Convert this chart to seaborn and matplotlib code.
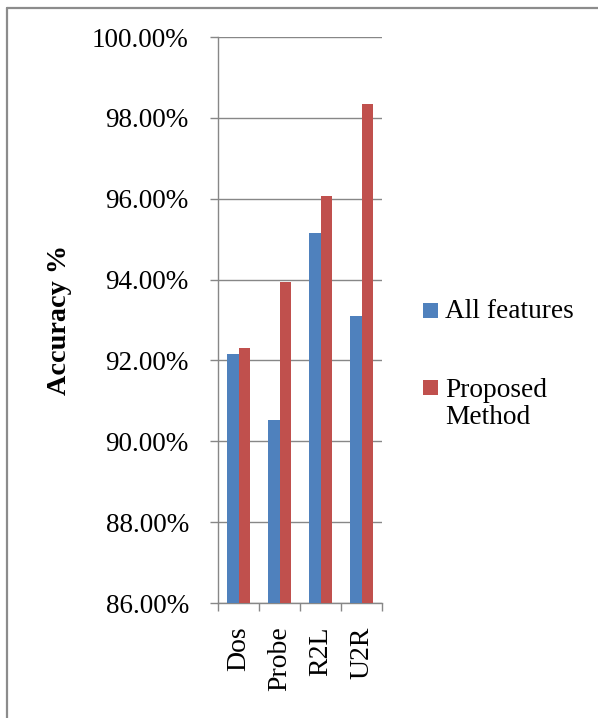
import matplotlib
matplotlib.use("Agg")
import matplotlib.pyplot as plt
from matplotlib.lines import Line2D
from matplotlib.patches import Rectangle
from matplotlib.ticker import FuncFormatter, FixedLocator, NullFormatter
import seaborn as sns
import pandas as pd

# Accuracy per attack class
categories = ["Dos", "Probe", "R2L", "U2R"]
all_features = [92.17, 90.52, 95.15, 93.09]
proposed_method = [92.30, 93.95, 96.06, 98.35]
series_names = ["All features", "Proposed\nMethod"]
y_ticks = [86, 88, 90, 92, 94, 96, 98, 100]

df = pd.DataFrame({
    "category": categories * 2,
    "accuracy": all_features + proposed_method,
    "series": [series_names[0]] * 4 + [series_names[1]] * 4,
})

sns.set_theme(style="white")
plt.rcParams["font.family"] = ["Liberation Serif", "DejaVu Serif"]

W, H = 598, 718
fig = plt.figure(figsize=(W / 100, H / 100), dpi=100)
fig.patch.set_facecolor("white")

left, right, top, bottom = 218, 382, 37, 603
ax = fig.add_axes([left / W, 1 - bottom / H, (right - left) / W, (bottom - top) / H])

colors = ["#4F81BD", "#C0504D"]
sns.barplot(data=df, x="category", y="accuracy", hue="series",
            palette=colors, width=0.57, linewidth=0, saturation=1,
            ax=ax, legend=False, zorder=3)

grey = "#878787"
ax.set_ylim(86, 100)
ax.set_xlim(-0.5, len(categories) - 0.5)
ax.set_yticks(y_ticks)
ax.yaxis.set_major_formatter(FuncFormatter(lambda v, p: f"{v:.2f}%"))
ax.yaxis.grid(True, color=grey, linewidth=1.0, zorder=0)
ax.set_axisbelow(True)

# category boundaries carry the tick marks, labels sit at the centres
ax.xaxis.set_minor_locator(FixedLocator([i - 0.5 for i in range(len(categories) + 1)]))
ax.xaxis.set_minor_formatter(NullFormatter())
ax.tick_params(axis="x", which="major", length=0, pad=17, labelsize=20,
               labelrotation=90, labelcolor="black")
ax.tick_params(axis="x", which="minor", length=6, width=1.0, color=grey,
               direction="out", bottom=True)
ax.tick_params(axis="y", length=6, width=1.0, color=grey, direction="out",
               pad=15, labelsize=19.5, labelcolor="black", left=True)
for lbl in ax.get_xticklabels():
    lbl.set_va("top")
    lbl.set_ha("center")

for side in ["top", "right"]:
    ax.spines[side].set_visible(False)
for side in ["left", "bottom"]:
    ax.spines[side].set_color(grey)
    ax.spines[side].set_linewidth(1.0)

ax.set_xlabel("")
ax.set_ylabel("Accuracy %", fontsize=20.3, fontweight="bold", color="black")
ax.yaxis.label.set_va("center")
ax.yaxis.set_label_coords((59 - left) / (right - left), 0.5)

# legend entries to the right of the plot
legend_rows = [(310.5, 312), (387, 404)]
for name, col, (sq_y, txt_y) in zip(series_names, colors, legend_rows):
    fig.add_artist(Rectangle((423 / W, 1 - (sq_y + 7.5) / H), 15 / W, 15 / H,
                             transform=fig.transFigure, facecolor=col,
                             edgecolor="none"))
    fig.text(445 / W, 1 - txt_y / H, name, fontsize=19.7, va="center",
             ha="left", linespacing=1.15, color="black")

# chart frame
frame_kw = dict(color="#8c8c8c", linewidth=1.6, transform=fig.transFigure)
fig.add_artist(Line2D([7 / W, 7 / W], [0, 1 - 8 / H], **frame_kw))
fig.add_artist(Line2D([7 / W, 1], [1 - 8 / H, 1 - 8 / H], **frame_kw))

fig.savefig("out.png", dpi=100, facecolor="white")
